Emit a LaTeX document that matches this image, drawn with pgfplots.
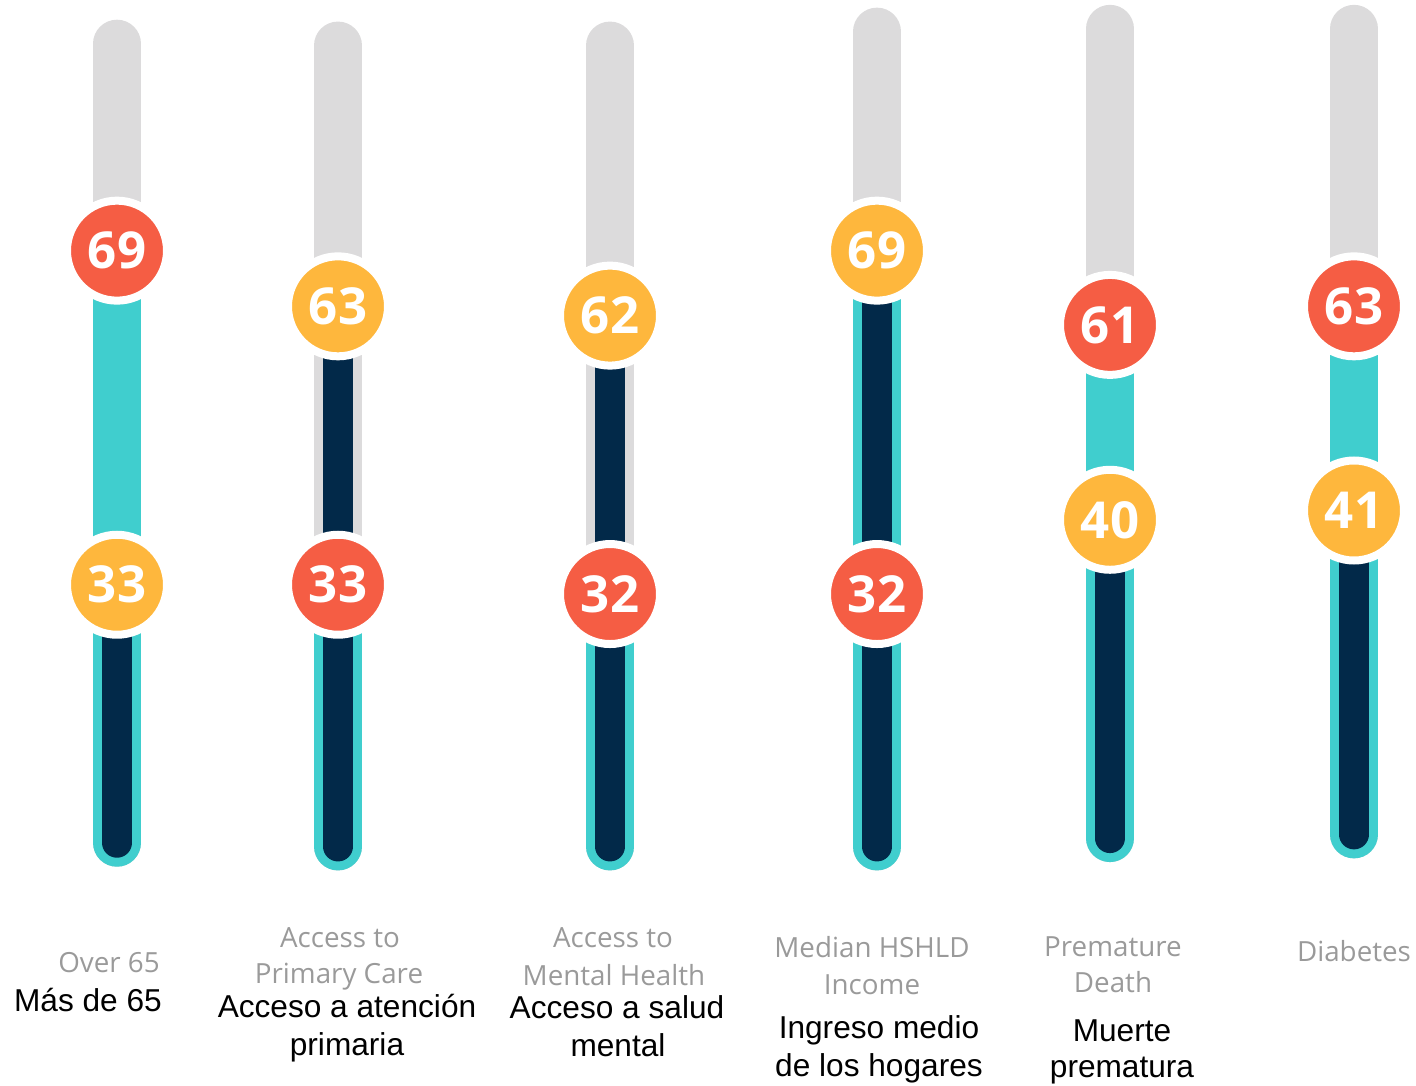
\documentclass[border=0pt]{standalone}
\usepackage{fontspec}
\setmainfont{Liberation Sans}
\newfontfamily\osans{Open Sans}
\usepackage{pgfplots}
\pgfplotsset{compat=1.18}
\definecolor{trackgray}{HTML}{DCDBDC}
\definecolor{tealc}{HTML}{40CECE}
\definecolor{navyc}{HTML}{022949}
\definecolor{redc}{HTML}{F55D44}
\definecolor{yelc}{HTML}{FEB73D}
\definecolor{labgray}{HTML}{9A9A9A}
\begin{document}
\begin{tikzpicture}
\begin{axis}[at={(0,0)},anchor=south west,scale only axis,
  width=14.16cm,height=10.86cm,xmin=0,xmax=1416,ymin=-21.01,ymax=96.01,
  hide axis,clip=false,unbounded coords=jump]
% background track
\addplot[draw=trackgray,line width=4.8mm,line cap=round] coordinates {
 (117,5.2)(117,91.3) (117,nan)
 (338,4.8)(338,91.1) (338,nan)
 (610,4.8)(610,91.1) (610,nan)
 (877,4.8)(877,92.6) (877,nan)
 (1110,5.7)(1110,92.9) (1110,nan)
 (1354,6.1)(1354,92.9)};
% teal bar
\addplot[draw=tealc,line width=4.8mm,line cap=round] coordinates {
 (117,5.2)(117,69) (117,nan)
 (338,4.8)(338,33) (338,nan)
 (610,4.8)(610,32) (610,nan)
 (877,4.8)(877,69) (877,nan)
 (1110,5.7)(1110,61) (1110,nan)
 (1354,6.1)(1354,63)};
% navy bar
\addplot[draw=navyc,line width=3.0mm,line cap=round] coordinates {
 (117,5.2)(117,33) (117,nan)
 (338,4.8)(338,63) (338,nan)
 (610,4.8)(610,62) (610,nan)
 (877,4.8)(877,69) (877,nan)
 (1110,5.7)(1110,40) (1110,nan)
 (1354,6.1)(1354,41)};
% red markers
\addplot[only marks,mark=*,mark size=5.0mm,
  mark options={fill=redc,draw=white,line width=0.8mm},
  point meta=explicit symbolic,nodes near coords,
  every node near coord/.append style={anchor=center,text=white,
    font=\osans\bfseries\fontsize{14.5}{14.5}\selectfont}]
 coordinates {(117,69)[69] (338,33)[33] (610,32)[32] (877,32)[32] (1110,61)[61] (1354,63)[63]};
% yellow markers
\addplot[only marks,mark=*,mark size=5.0mm,
  mark options={fill=yelc,draw=white,line width=0.8mm},
  point meta=explicit symbolic,nodes near coords,
  every node near coord/.append style={anchor=center,text=white,
    font=\osans\bfseries\fontsize{14.5}{14.5}\selectfont}]
 coordinates {(117,33)[33] (338,63)[63] (610,62)[62] (877,69)[69] (1110,40)[40] (1354,41)[41]};
\end{axis}
\begin{scope}[every node/.style={anchor=base,inner sep=0pt}]
\tikzset{en/.style={font=\osans\fontsize{7.9}{9}\selectfont,text=labgray},
         es/.style={font=\fontsize{9}{11}\selectfont,text=black}}
\node[en] at (1.09,1.13) {Over 65};
\node[en] at (3.40,1.38) {Access to};
\node[en] at (3.39,1.02) {Primary Care};
\node[en] at (6.13,1.38) {Access to};
\node[en] at (6.14,1.00) {Mental Health};
\node[en] at (8.72,1.28) {Median HSHLD};
\node[en] at (8.72,0.91) {Income};
\node[en] at (11.13,1.29) {Premature};
\node[en] at (11.13,0.93) {Death};
\node[en] at (13.54,1.24) {Diabetes};
\node[es] at (0.88,0.74) {Más de 65};
\node[es] at (3.47,0.68) {Acceso a atención};
\node[es] at (3.47,0.30) {primaria};
\node[es] at (6.17,0.67) {Acceso a salud};
\node[es] at (6.18,0.29) {mental};
\node[es] at (8.79,0.47) {Ingreso medio};
\node[es] at (8.79,0.09) {de los hogares};
\node[es] at (11.22,0.44) {Muerte};
\node[es] at (11.22,0.08) {prematura};
\end{scope}
\pgfresetboundingbox
\path (0,0) rectangle (14.16,10.86);
\end{tikzpicture}
\end{document}
